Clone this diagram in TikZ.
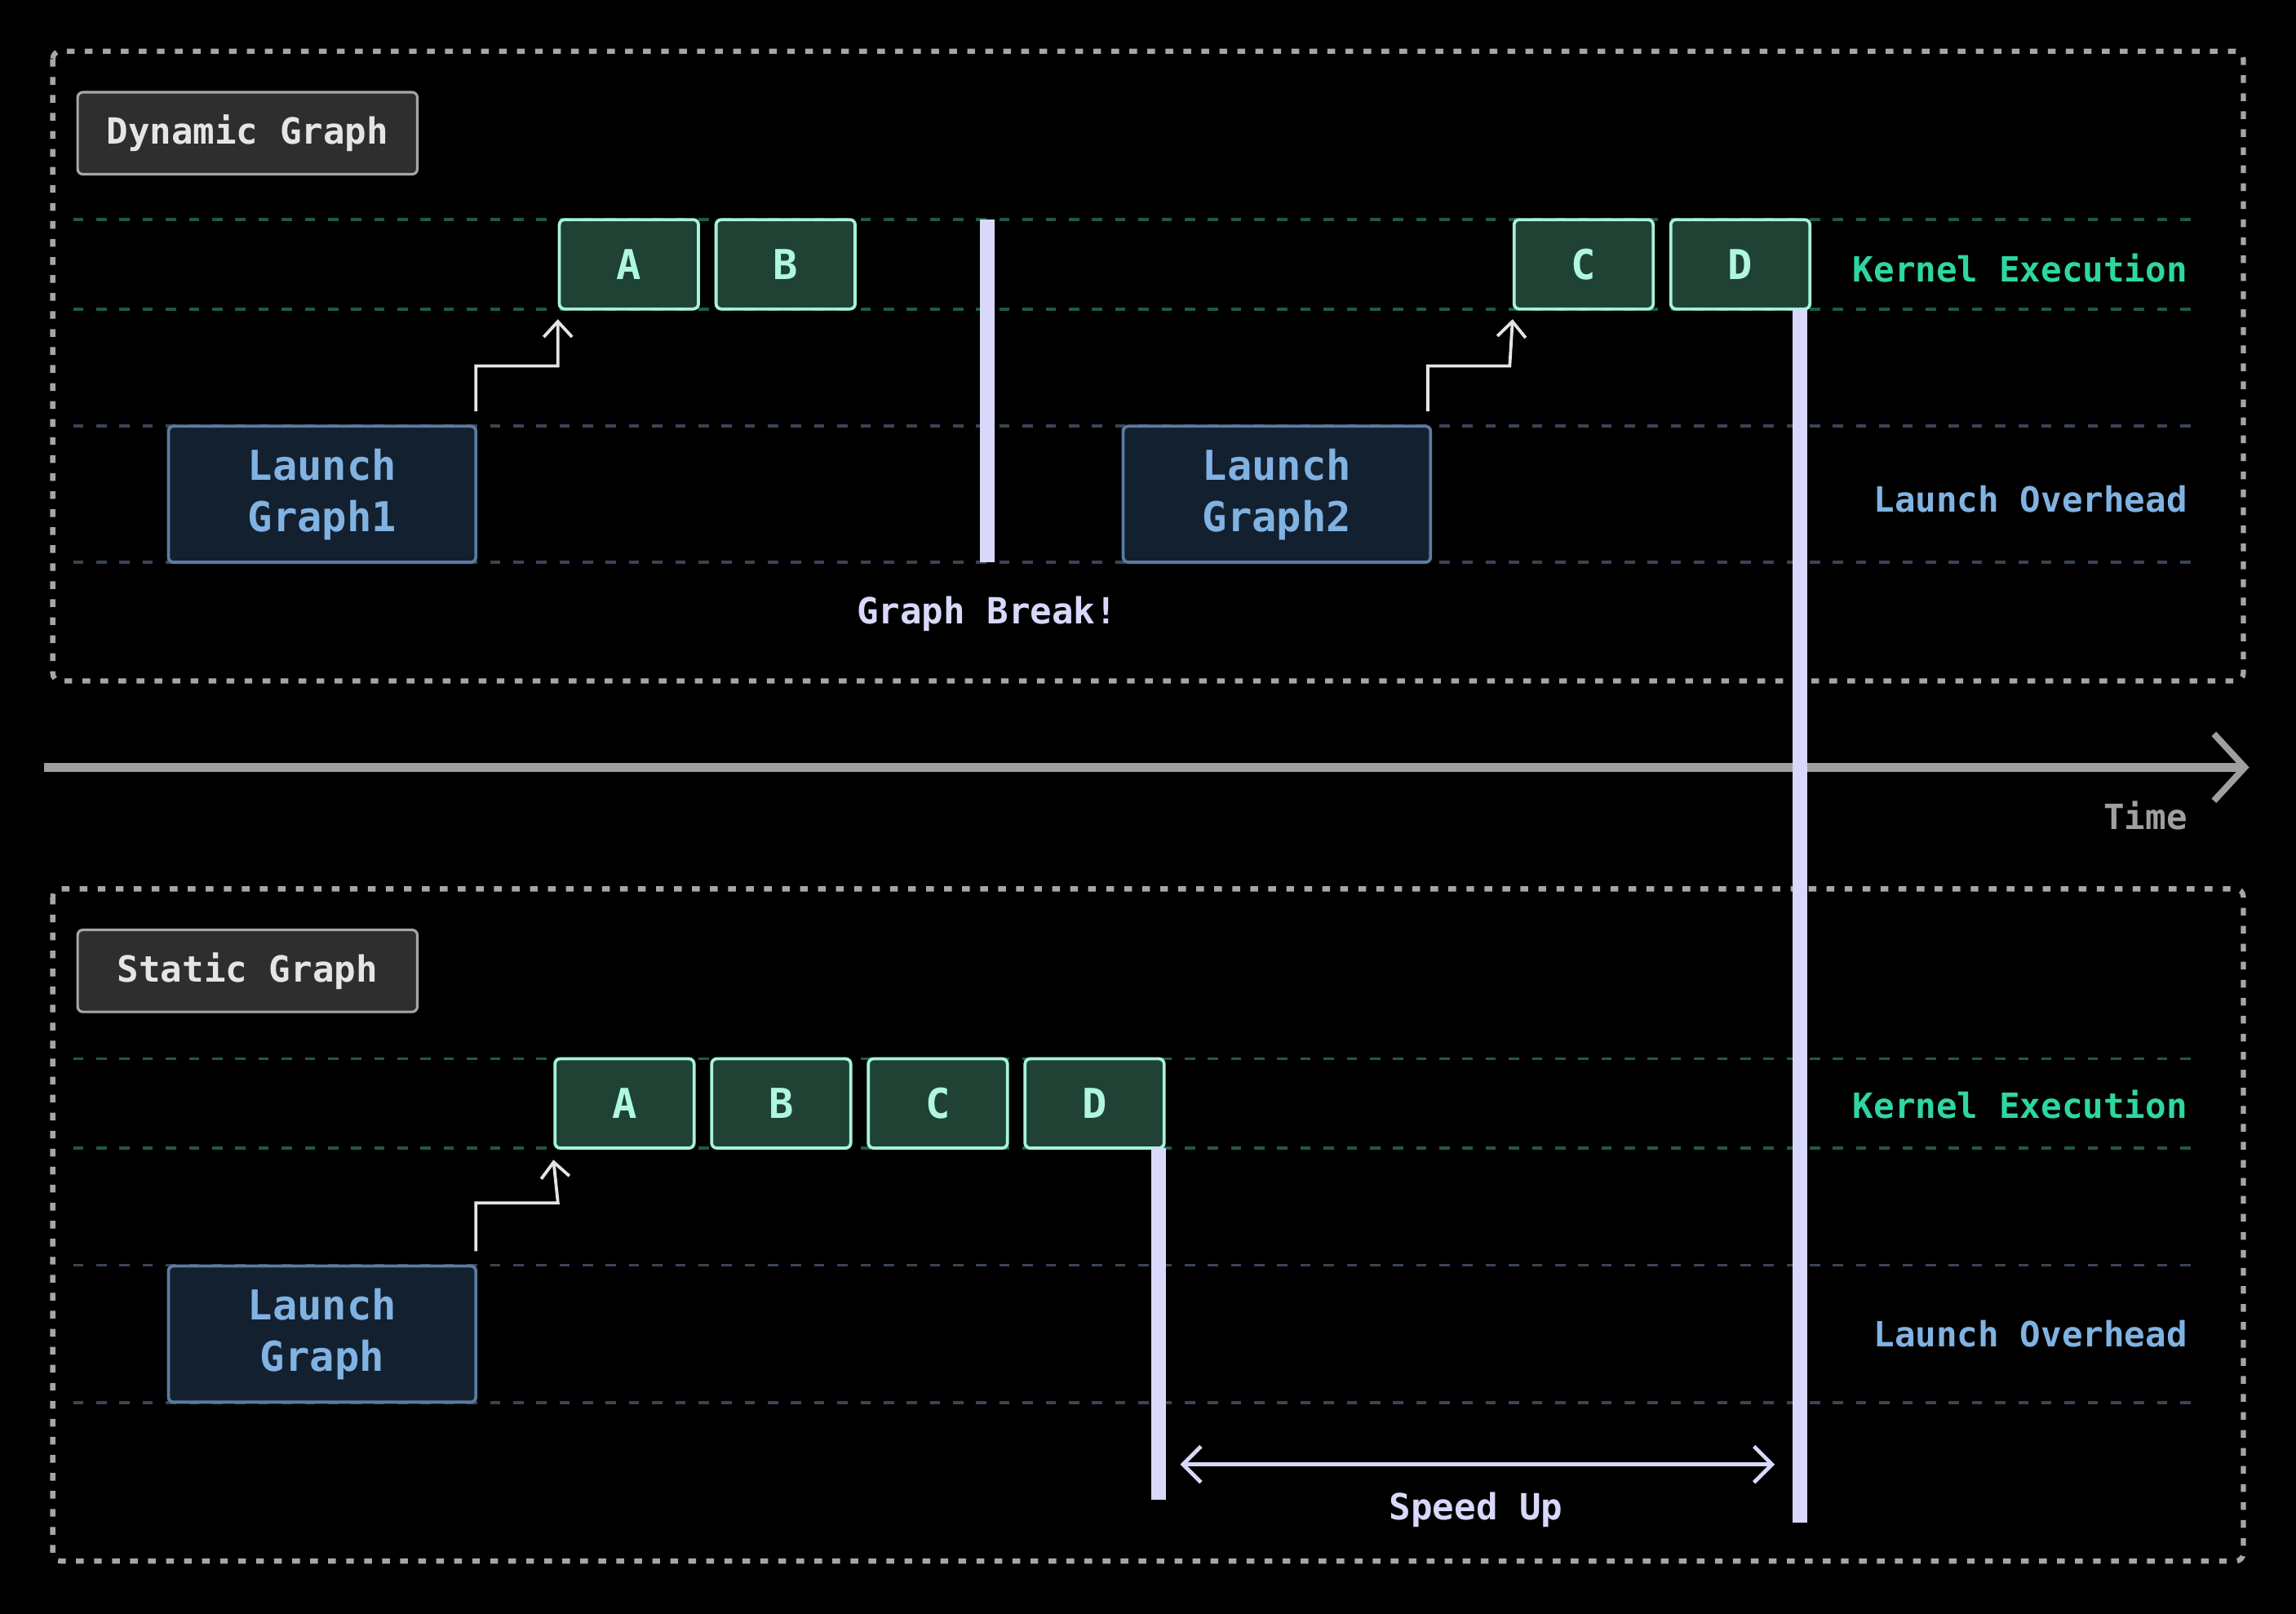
\documentclass[tikz,border=0pt]{standalone}
\usepackage{fontspec}
\setmonofont{DejaVu Sans Mono}
\usetikzlibrary{arrows.meta}
\definecolor{kfill}{HTML}{1F4234}
\definecolor{kdraw}{HTML}{A6F2DA}
\definecolor{ktext}{HTML}{B0F7E2}
\definecolor{kline}{HTML}{1E5A48}
\definecolor{klabel}{HTML}{2ED6A2}
\definecolor{lfill}{HTML}{13202F}
\definecolor{ldraw}{HTML}{5A7CA0}
\definecolor{ltext}{HTML}{80B2E2}
\definecolor{lline}{HTML}{3A4458}
\definecolor{bar}{HTML}{D8D8FA}
\tikzset{
  kernel/.style={shape=rectangle,rounded corners=2pt,draw=kdraw,fill=kfill,line width=1.2pt,text=ktext,minimum width=1.9cm,minimum height=1.22cm,font=\ttfamily\bfseries\fontsize{16}{18}\selectfont},
  launch/.style={shape=rectangle,rounded corners=2pt,draw=ldraw,fill=lfill,line width=1.2pt,text=ltext,minimum width=4.2cm,minimum height=1.86cm,align=center,font=\ttfamily\bfseries\fontsize{16}{20}\selectfont},
  title/.style={shape=rectangle,rounded corners=2pt,draw=gray!70,fill=black!82,line width=1pt,text=black!10,minimum width=4.64cm,minimum height=1.12cm,font=\ttfamily\bfseries\fontsize{14}{16}\selectfont},
  lane/.style={dashed,dash pattern=on 4pt off 5pt,line width=1.2pt},
  side/.style={anchor=east,font=\ttfamily\bfseries\fontsize{13.5}{16}\selectfont},
  frame/.style={draw=gray!70,line width=2pt,dash pattern=on 3pt off 4pt,rounded corners=3pt},
  trigger/.style={draw=white!90!black,line width=1.2pt,-{Straight Barb[length=6pt,width=11pt]}},
  barline/.style={draw=bar,line width=0.2cm},
}
\begin{document}
\begin{tikzpicture}[x=0.02cm,y=-0.02cm]
    \fill[black] (0,0) rectangle (1568,1102);
    \useasboundingbox (0,0) rectangle (1568,1102);

    % dynamic graph
    \draw[frame] (36,35) rectangle (1532,465);
    \node[title] (dyn) at (169,91) {Dynamic Graph};
    \draw[lane,draw=kline] (50,150) -- (1500,150) (50,211) -- (1500,211);
    \draw[lane,draw=lline] (50,291) -- (1500,291) (50,384) -- (1500,384);
    \node[side,text=klabel] (kexec1) at (1500,183) {Kernel Execution};
    \node[side,text=ltext] (lover1) at (1500,341) {Launch Overhead};

    \node[launch] (LG1) at (220,337.5) {Launch\\Graph1};
    \node[launch] (LG2) at (872,337.5) {Launch\\Graph2};
    \node[kernel] (A1) at (429.5,180.5) {A};
    \node[kernel] (B1) at (536.5,180.5) {B};
    \node[kernel] (C1) at (1081.5,180.5) {C};
    \node[kernel] (D1) at (1188.5,180.5) {D};

    \draw[trigger] (LG1.north east) ++(-1,-9) |- ++(56,-31) -- (A1.south west |- 0,218);
    \draw[trigger] (LG2.north east) ++(-3,-9) |- ++(56,-31) -- (C1.south west |- 0,218);

    \coordinate (brk top) at (674,150);
    \coordinate (brk bot) at (674,384);
    \draw[barline] (brk top) -- (brk bot);
    \node[text=bar,font=\ttfamily\bfseries\fontsize{14}{16}\selectfont] (brk) at (674,419) {Graph Break!};

    % time axis
    \coordinate (t0) at (30,524);
    \coordinate (t1) at (1536,524);
    \draw[gray!75,line width=0.12cm,-{Straight Barb[length=12pt,width=26pt,line width=2.5pt]}] (t0) -- (t1);
    \node[side,text=gray!75] (time) at (1500,557) {Time};

    % static graph
    \draw[frame] (36,607) rectangle (1532,1066);
    \node[title] (sta) at (169,663) {Static Graph};
    \draw[lane,draw=kline] (50,723) -- (1500,723) (50,784) -- (1500,784);
    \draw[lane,draw=lline] (50,864) -- (1500,864) (50,958) -- (1500,958);
    \node[side,text=klabel] (kexec2) at (1500,754) {Kernel Execution};
    \node[side,text=ltext] (lover2) at (1500,911) {Launch Overhead};

    \node[launch] (LG) at (220,911) {Launch\\Graph};
    \node[kernel] (A2) at (426.5,753.5) {A};
    \node[kernel] (B2) at (533.5,753.5) {B};
    \node[kernel] (C2) at (640.5,753.5) {C};
    \node[kernel] (D2) at (747.5,753.5) {D};
    \draw[trigger] (LG.north east) ++(-1,-9) |- ++(56,-33) -- (A2.south west |- 0,792);

    \coordinate (end dyn) at (1229,211);
    \coordinate (end dyn b) at (1229,1040);
    \coordinate (end sta) at (791,784);
    \coordinate (end sta b) at (791,1024);
    \draw[barline] (end dyn) -- (end dyn b);
    \draw[barline] (end sta) -- (end sta b);

    \coordinate (su0) at (806,1000);
    \coordinate (su1) at (1212,1000);
    \draw[bar,line width=1.5pt,{Straight Barb[length=7pt,width=14pt]}-{Straight Barb[length=7pt,width=14pt]}] (su0) -- (su1);
    \node[text=bar,font=\ttfamily\bfseries\fontsize{14}{16}\selectfont] (speed) at (1008,1031) {Speed Up};
\end{tikzpicture}
\end{document}
